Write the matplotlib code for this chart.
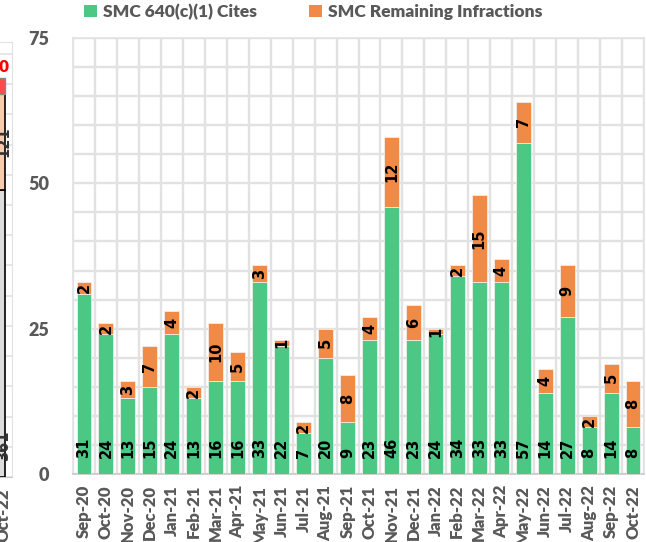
import matplotlib
matplotlib.use("Agg")
import matplotlib.pyplot as plt
from matplotlib.patches import Patch
from matplotlib.ticker import MultipleLocator, FixedLocator

# Monthly counts
months = ["Sep-20", "Oct-20", "Nov-20", "Dec-20", "Jan-21", "Feb-21", "Mar-21",
          "Apr-21", "May-21", "Jun-21", "Jul-21", "Aug-21", "Sep-21", "Oct-21",
          "Nov-21", "Dec-21", "Jan-22", "Feb-22", "Mar-22", "Apr-22", "May-22",
          "Jun-22", "Jul-22", "Aug-22", "Sep-22", "Oct-22"]
cites_640 = [31, 24, 13, 15, 24, 13, 16, 16, 33, 22, 7, 20, 9, 23, 46, 23, 24,
             34, 33, 33, 57, 14, 27, 8, 14, 8]
remaining = [2, 2, 3, 7, 4, 2, 10, 5, 3, 1, 2, 5, 8, 4, 12, 6, 1, 2, 15, 4, 7,
             4, 9, 2, 5, 8]
y_ticks = [0, 25, 50, 75]

# Neighbouring chart panel (only its last column is in view)
side_month = ["Oct-22"]
side_grey = [361]
side_peach = [121]
side_red = [20]

GREEN = "#4CC784"
ORANGE = "#EF8A47"
GRID = "#e2e2e2"
TXT = "#595959"
TICKFONT = ["Lato", "DejaVu Sans"]

W, H = 646, 542
fig = plt.figure(figsize=(W / 100, H / 100), dpi=100)


def px_axes(x0, y0, x1, y1):
    return fig.add_axes([x0 / W, 1 - y1 / H, (x1 - x0) / W, (y1 - y0) / H])


# ---- main chart ----
ax = px_axes(73, 38, 644, 474)
x = list(range(len(months)))
bw = 0.68
ax.bar(x, cites_640, width=bw, color=GREEN, edgecolor="#f4f4f4", linewidth=0.5, zorder=3)
ax.bar(x, remaining, width=bw, bottom=cites_640, color=ORANGE, edgecolor="#f4f4f4",
       linewidth=0.5, zorder=3)

ax.set_xlim(-0.5, len(months) - 0.5)
ax.set_ylim(0, 75)
ax.yaxis.set_minor_locator(MultipleLocator(5))
ax.yaxis.set_major_locator(FixedLocator(y_ticks))
ax.xaxis.set_minor_locator(FixedLocator([i + 0.5 for i in range(-1, len(months))]))
ax.grid(True, which="minor", color=GRID, linewidth=1.7, zorder=0)
ax.grid(True, which="major", axis="y", color=GRID, linewidth=1.7, zorder=0)
ax.set_axisbelow(True)

ax.set_xticks(x)
ax.set_xticklabels(months, rotation=90, fontsize=12, fontweight="heavy",
                   color=TXT, family=TICKFONT)
ax.set_yticks(y_ticks)
ax.set_yticklabels([str(v) for v in y_ticks], fontsize=13, fontweight="heavy",
                   color=TXT, family=TICKFONT)
ax.tick_params(axis="both", which="both", length=0)
ax.tick_params(axis="y", pad=17)
ax.tick_params(axis="x", pad=8)
for s in ["top", "right", "left"]:
    ax.spines[s].set_color(GRID)
    ax.spines[s].set_linewidth(1.2)
ax.spines["bottom"].set_color("#c8c8c8")
ax.spines["bottom"].set_linewidth(1.2)

for i in x:
    ax.text(i, 2.7, str(cites_640[i]), rotation=90, rotation_mode="anchor",
            ha="left", va="center", fontsize=10.5, fontweight="bold",
            color="black", zorder=5)
    ax.text(i, cites_640[i] + remaining[i] / 2, str(remaining[i]), rotation=90,
            ha="center", va="center", fontsize=10.5, fontweight="bold",
            color="black", zorder=5)

handles = [Patch(facecolor=GREEN, label="SMC 640(c)(1) Cites"),
           Patch(facecolor=ORANGE, label="SMC Remaining Infractions")]
leg = fig.legend(handles=handles, loc="center", bbox_to_anchor=(313 / W, 1 - 12 / H),
                 ncol=2, frameon=False, handlelength=0.75, handleheight=0.75,
                 handletextpad=0.35, columnspacing=3.0,
                 prop={"family": TICKFONT, "weight": "heavy", "size": 12.5})
for t in leg.get_texts():
    t.set_color(TXT)

# ---- partial neighbouring panel at the left edge ----
ax2 = px_axes(-70, 42, 12, 477)
ax2.set_xlim(0, 1)
ax2.set_ylim(0, 547)
bx, bwid = 0.62, 0.6
ax2.bar([bx], side_grey, width=bwid, color="#dcdcdc", edgecolor="black", linewidth=1.2, zorder=3)
ax2.bar([bx], side_peach, width=bwid, bottom=side_grey, color="#F8CBAD",
        edgecolor="black", linewidth=1.2, zorder=3)
ax2.bar([bx], side_red, width=bwid, bottom=[side_grey[0] + side_peach[0]],
        color="#FF4B4B", edgecolor="#888888", linewidth=1.0, zorder=3)
ax2.yaxis.set_major_locator(MultipleLocator(38))
ax2.grid(True, axis="y", color=GRID, linewidth=1.2, zorder=0)
ax2.set_yticklabels([])
ax2.set_xticks([0.9])
ax2.set_xticklabels(side_month, rotation=90, fontsize=12, fontweight="heavy",
                    color=TXT, family=TICKFONT)
ax2.tick_params(length=0, pad=8)
for s in ["top", "right", "left"]:
    ax2.spines[s].set_color(GRID)
ax2.spines["bottom"].set_color("#c8c8c8")
lab_x = 0.9
ax2.text(lab_x, 20, str(side_grey[0]), rotation=90, rotation_mode="anchor",
         ha="left", va="center", fontsize=10.5, fontweight="bold", color="#333333", zorder=5)
ax2.text(lab_x, side_grey[0] + side_peach[0] / 2, str(side_peach[0]), rotation=90,
         ha="center", va="center", fontsize=10.5, fontweight="bold", color="#333333", zorder=5)
ax2.text(0.85, side_grey[0] + side_peach[0] + side_red[0] + 3, str(side_red[0]),
         ha="center", va="bottom", fontsize=11, fontweight="bold", color="red", zorder=5)

fig.savefig("out.png", dpi=100)
